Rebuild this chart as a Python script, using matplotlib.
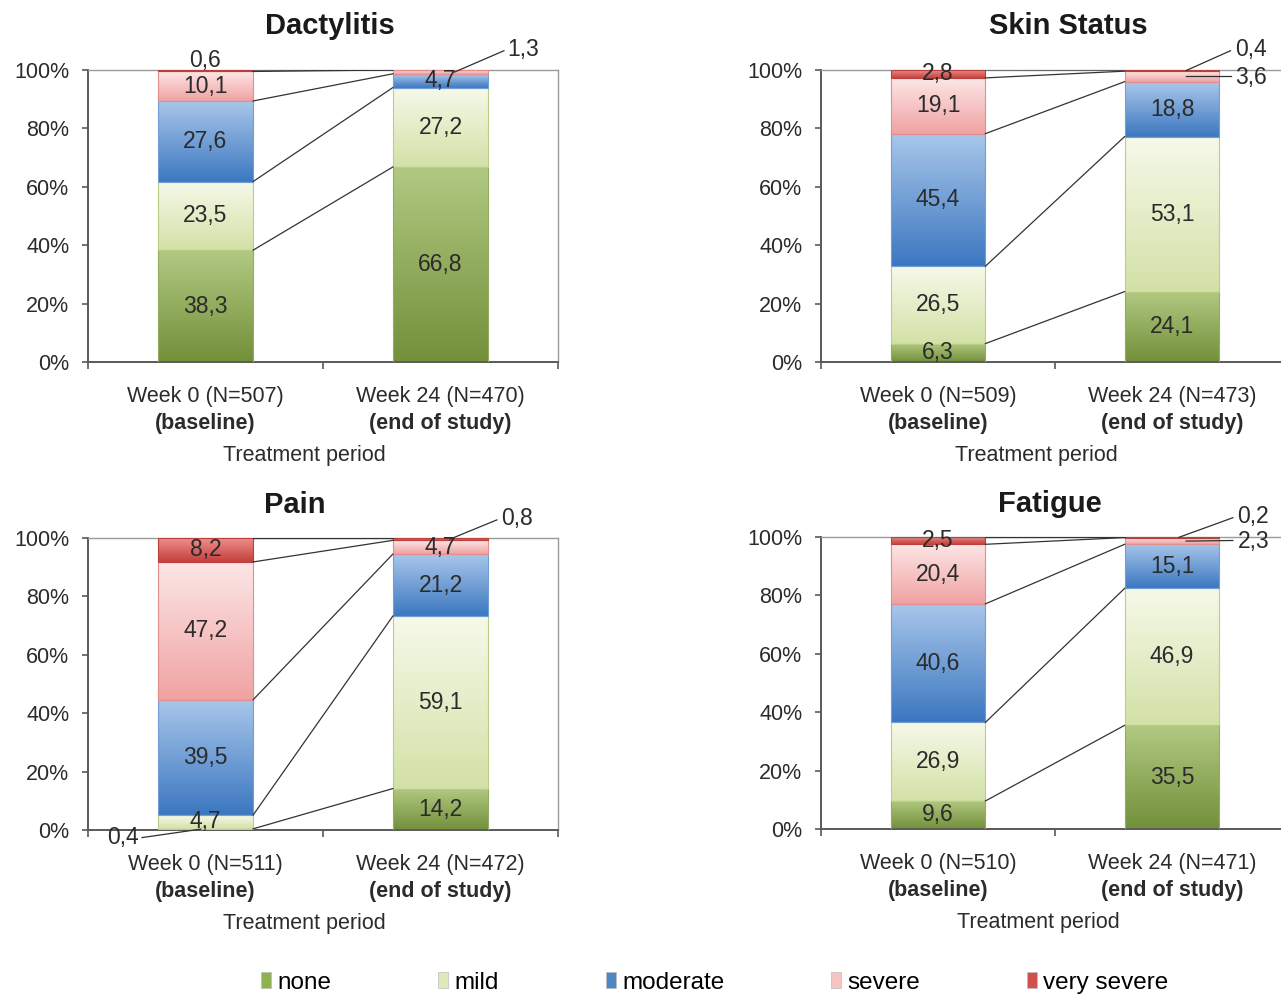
import numpy as np
import matplotlib
matplotlib.use("Agg")
import matplotlib.pyplot as plt
from matplotlib.colors import LinearSegmentedColormap
from matplotlib.patches import Patch

plt.rcParams['font.family'] = ['Liberation Sans', 'DejaVu Sans']

# ---- data ----------------------------------------------------------------
categories = ["none", "mild", "moderate", "severe", "very severe"]

dactylitis_w0 = [38.3, 23.5, 27.6, 10.1, 0.6]
dactylitis_w24 = [66.8, 27.2, 4.7, 1.3, 0.0]
skin_w0 = [6.3, 26.5, 45.4, 19.1, 2.8]
skin_w24 = [24.1, 53.1, 18.8, 3.6, 0.4]
pain_w0 = [0.4, 4.7, 39.5, 47.2, 8.2]
pain_w24 = [14.2, 59.1, 21.2, 4.7, 0.8]
fatigue_w0 = [9.6, 26.9, 40.6, 20.4, 2.5]
fatigue_w24 = [35.5, 46.9, 15.1, 2.3, 0.2]

titles = ["Dactylitis", "Skin Status", "Pain", "Fatigue"]
n_w0 = [507, 509, 511, 510]
n_w24 = [470, 473, 472, 471]
xlabel = "Treatment period"

# ---- styling ---------------------------------------------------------------
grad_colors = {
    "none": ("#72903a", "#b2c982"),
    "mild": ("#d3e1a6", "#f6f9ea"),
    "moderate": ("#3b77c0", "#a9c7ea"),
    "severe": ("#f0a2a2", "#fde6e6"),
    "very severe": ("#c43f3b", "#ef8f8c"),
}
edge_colors = {
    "none": "#93ac62",
    "mild": "#b9cf85",
    "moderate": "#6f9fd6",
    "severe": "#e08e8e",
    "very severe": "#b9403c",
}
legend_colors = {
    "none": "#8fb150",
    "mild": "#dfeab9",
    "moderate": "#4f86c6",
    "severe": "#f7c4c4",
    "very severe": "#d0504d",
}

BAR_W = 0.405
TXT = "#2b2b2b"
AXC = "#595959"
FS_TICK = 15.5
FS_VAL = 16.5
FS_TITLE = 21

fig = plt.figure(figsize=(12.81, 9.97), dpi=100)

rects = [
    [88 / 1281, 1 - 362 / 997, 470 / 1281, 292 / 997],
    [821 / 1281, 1 - 362 / 997, 468 / 1281, 292 / 997],
    [88 / 1281, 1 - 830 / 997, 470 / 1281, 292 / 997],
    [821 / 1281, 1 - 829 / 997, 468 / 1281, 292 / 997],
]
title_pos = [(0.515, 32), (0.528, 32), (0.44, 24), (0.489, 24)]
xlabel_pos = [0.46, 0.46, 0.46, 0.464]

# callouts: (bar, category) -> (text_x, text_y, ha, leader start, leader end)
callouts = [
    {(0, 4): (0.0, 103.3, "center", None, None),
     (1, 3): (1.285, 107.0, "left", (1.06, 99.3), (1.27, 106.6))},
    {(1, 4): (1.27, 107.0, "left", (1.06, 99.8), (1.25, 106.6)),
     (1, 3): (1.27, 97.6, "left", (1.06, 97.9), (1.25, 97.9))},
    {(1, 4): (1.26, 106.6, "left", (1.04, 99.6), (1.24, 106.2)),
     (0, 0): (-0.285, -2.4, "right", (-0.02, 0.3), (-0.27, -2.6))},
    {(1, 4): (1.28, 107.0, "left", (1.03, 99.9), (1.26, 106.6)),
     (1, 3): (1.28, 98.6, "left", (1.06, 98.6), (1.26, 98.8))},
]

panels = [
    (dactylitis_w0, dactylitis_w24),
    (skin_w0, skin_w24),
    (pain_w0, pain_w24),
    (fatigue_w0, fatigue_w24),
]

grad = np.linspace(0, 1, 256).reshape(-1, 1)
cmaps = {c: LinearSegmentedColormap.from_list(c, list(grad_colors[c])) for c in categories}


def fmt(v):
    return f"{v:.1f}".replace(".", ",")


for k, (w0, w24) in enumerate(panels):
    ax = fig.add_axes(rects[k])
    series = [w0, w24]
    tops = []
    for b, vals in enumerate(series):
        bottom = 0.0
        bar_tops = []
        for c, cat in enumerate(categories):
            v = vals[c]
            if v > 0:
                bar = ax.bar(b, v, BAR_W, bottom=bottom, facecolor="none",
                             edgecolor=edge_colors[cat], linewidth=0.8, zorder=3)[0]
                x0 = bar.get_x()
                ax.imshow(grad, cmap=cmaps[cat], aspect="auto", origin="lower",
                          extent=(x0, x0 + bar.get_width(), bottom, bottom + v),
                          zorder=2, interpolation="bicubic")
                spec = callouts[k].get((b, c))
                if spec is None:
                    ax.text(b, bottom + v / 2, fmt(v), ha="center", va="center",
                            fontsize=FS_VAL, color=TXT, zorder=5)
                else:
                    tx, ty, ha, p0, p1 = spec
                    ax.text(tx, ty, fmt(v), ha=ha, va="center", fontsize=FS_VAL,
                            color=TXT, zorder=5, clip_on=False)
                    if p0 is not None:
                        ax.plot([p0[0], p1[0]], [p0[1], p1[1]], color="#303030",
                                lw=0.9, zorder=6, clip_on=False)
            bottom += v
            bar_tops.append(bottom)
        tops.append(bar_tops)

    # connectors between cumulative boundaries of the two bars
    for c in range(len(categories)):
        ax.plot([BAR_W / 2, 1 - BAR_W / 2], [tops[0][c], tops[1][c]],
                color="#333333", lw=0.9, zorder=4)

    ax.set_xlim(-0.5, 1.5)
    ax.set_ylim(0, 100)
    ax.set_yticks(np.arange(0, 101, 20))
    ax.set_yticklabels([f"{t}%" for t in range(0, 101, 20)], fontsize=FS_TICK, color=TXT)
    ax.set_xticks([-0.5, 0.5, 1.5])
    ax.set_xticklabels([])
    ax.tick_params(axis="y", direction="out", length=4.5, width=1.2, color=AXC, pad=9)
    ax.tick_params(axis="x", direction="out", length=5, width=1.2, color=AXC)
    for s in ("left", "bottom"):
        ax.spines[s].set_color(AXC)
        ax.spines[s].set_linewidth(1.4)
    for s in ("top", "right"):
        ax.spines[s].set_color("#9a9a9a")
        ax.spines[s].set_linewidth(1.0)

    # category labels under each bar
    for b, (l1, l2) in enumerate([(f"Week 0 (N={n_w0[k]})", "(baseline)"),
                                  (f"Week 24 (N={n_w24[k]})", "(end of study)")]):
        ax.annotate(l1, xy=(b, 0), xycoords=("data", "axes fraction"),
                    xytext=(0, -24.5), textcoords="offset points",
                    ha="center", va="center", fontsize=FS_TICK, color=TXT)
        ax.annotate(l2, xy=(b, 0), xycoords=("data", "axes fraction"),
                    xytext=(0, -44), textcoords="offset points",
                    ha="center", va="center", fontsize=FS_TICK, color=TXT,
                    fontweight="bold")
    ax.annotate(xlabel, xy=(xlabel_pos[k], 0), xycoords="axes fraction",
                xytext=(0, -67.5), textcoords="offset points",
                ha="center", va="center", fontsize=FS_TICK, color=TXT)

    tx, off = title_pos[k]
    ax.annotate(titles[k], xy=(tx, 1), xycoords="axes fraction",
                xytext=(0, off), textcoords="offset points",
                ha="center", va="center", fontsize=FS_TITLE, fontweight="bold",
                color="#1a1a1a")

handles = [Patch(facecolor=legend_colors[c], edgecolor="#bdbdbd", linewidth=0.5,
                 label=c) for c in categories]
fig.legend(handles=handles, loc="center", bbox_to_anchor=(0.558, 0.0145),
           ncol=5, frameon=False, handlelength=0.42,
           handleheight=0.6, handletextpad=0.25, columnspacing=4.4,
           prop={"family": ["Liberation Sans Narrow", "Liberation Sans"], "size": 17.5})

fig.savefig("out.png", dpi=100, facecolor="white")
